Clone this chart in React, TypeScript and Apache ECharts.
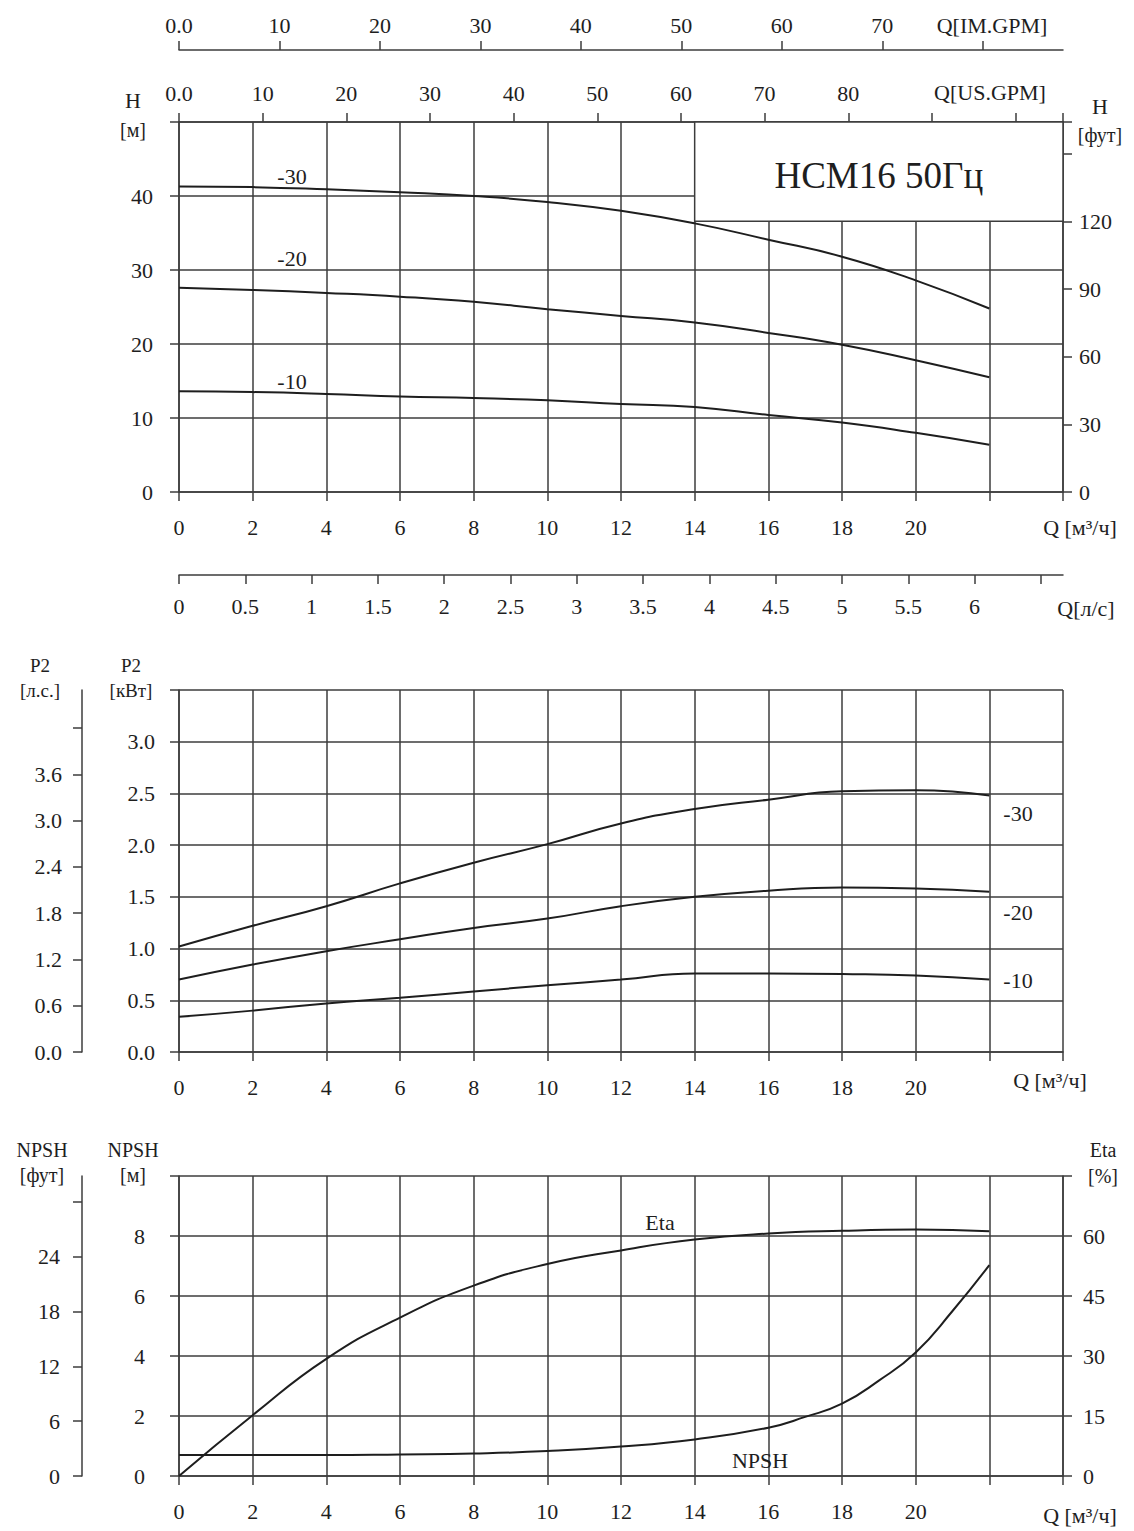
import React, { useEffect, useRef } from "react";
import * as echarts from "echarts";

// ---- data ----
const Q = [0, 2, 4, 6, 8, 10, 12, 14, 16, 18, 20, 22];
const H_30 = [41.3, 41.2, 40.9, 40.5, 40.0, 39.2, 38.0, 36.3, 34.1, 31.8, 28.6, 24.8];
const H_20 = [27.6, 27.3, 26.9, 26.4, 25.7, 24.7, 23.8, 22.9, 21.5, 19.9, 17.8, 15.5];
const H_10 = [13.6, 13.5, 13.25, 12.9, 12.7, 12.4, 11.9, 11.5, 10.4, 9.4, 8.0, 6.4];
const P2_30 = [1.02, 1.22, 1.41, 1.63, 1.83, 2.01, 2.21, 2.35, 2.44, 2.52, 2.53, 2.48];
const P2_20 = [0.7, 0.845, 0.975, 1.09, 1.2, 1.29, 1.41, 1.5, 1.56, 1.59, 1.58, 1.55];
const P2_10 = [0.34, 0.4, 0.47, 0.525, 0.585, 0.645, 0.7, 0.76, 0.76, 0.755, 0.74, 0.7];
const ETA = [0, 15.2, 29.3, 39.6, 47.6, 53.0, 56.4, 59.1, 60.6, 61.3, 61.6, 61.2];
const NPSH_Q = [0, 2, 4, 6, 8, 10, 12, 14, 16, 17, 18, 19, 20, 21, 22];
const NPSH = [0.7, 0.7, 0.7, 0.72, 0.75, 0.83, 0.98, 1.22, 1.61, 1.97, 2.41, 3.18, 4.12, 5.5, 7.03];

// unit conversions
const Q_MAX = 24; // m3/h
const M3H_TO_USGPM = 4.4029;
const M3H_TO_IMGPM = 3.6662;
const M3H_TO_LS = 1 / 3.6;
const M_TO_FT = 3.28084;
const KW_TO_HP = 1 / 0.7457;

// tick values / label limits of secondary axes
const USGPM_STEP = 10;
const USGPM_LAST_LABEL = 80;
const IMGPM_TICKS = [0, 10, 20, 30, 40, 50, 60, 70, 80];
const IMGPM_LABELS = [0, 10, 20, 30, 40, 50, 60, 70];
const LS_TICKS = [0, 0.5, 1, 1.5, 2, 2.5, 3, 3.5, 4, 4.5, 5, 5.5, 6, 6.5];
const LS_LABELS = [0, 0.5, 1, 1.5, 2, 2.5, 3, 3.5, 4, 4.5, 5, 5.5, 6];
const HFT_STEP = 30;
const HFT_LAST_LABEL = 120;
const HP_TICKS = [0, 0.6, 1.2, 1.8, 2.4, 3.0, 3.6, 4.2];
const HP_LABELS = [0, 0.6, 1.2, 1.8, 2.4, 3.0, 3.6];
const NFT_TICKS = [0, 6, 12, 18, 24, 30];
const NFT_LABELS = [0, 6, 12, 18, 24];

const FONT = "Liberation Serif";
const INK = "#1e1e1e";
const GRIDC = "#3c3c3c";
const FS = 22;

const pairs = (xs: number[], ys: number[]) => xs.map((x, i) => [x, ys[i]]);

export default function App() {
  const ref = useRef<HTMLDivElement>(null);
  useEffect(() => {
    if (!ref.current) return;
    const chart = echarts.init(ref.current, null, { renderer: "svg" });
    const L = 179;
    const W = 884;
    const lbl = (extra: any = {}) => ({
      color: INK,
      fontFamily: FONT,
      fontSize: FS,
      ...extra,
    });
    const axLine = { show: true, onZero: false, lineStyle: { color: GRIDC, width: 1.5 } };
    const split = { show: true, lineStyle: { color: GRIDC, width: 1.5 } };
    const tick = (len = 9) => ({ show: true, length: len, lineStyle: { color: GRIDC, width: 1.5 } });

    const qAxis = (gridIndex: number) => ({
      type: "value",
      gridIndex,
      position: "bottom",
      min: 0,
      max: Q_MAX,
      interval: 2,
      axisLine: axLine,
      axisTick: tick(9),
      splitLine: split,
      axisLabel: lbl({ margin: 24, formatter: (v: number) => (v <= 20 ? String(v) : "") }),
    });

    const line = (xi: number, yi: number, data: number[][]) => ({
      type: "line",
      xAxisIndex: xi,
      yAxisIndex: yi,
      data,
      smooth: 0.5,
      symbol: "none",
      lineStyle: { color: INK, width: 2 },
      z: 3,
    });

    const t = (text: string, x: number, y: number, fs = 20, align = "center") => ({
      type: "text",
      x,
      y,
      z: 10,
      style: {
        text,
        fill: INK,
        font: `${fs}px "${FONT}"`,
        align,
        verticalAlign: "middle",
      },
    });

    const hSeries30: any = line(0, 0, pairs(Q, H_30));
    hSeries30.markArea = {
      silent: true,
      itemStyle: { color: "#ffffff", borderColor: GRIDC, borderWidth: 1.5 },
      label: {
        show: true,
        position: "inside",
        color: INK,
        fontFamily: FONT,
        fontSize: 37,
        offset: [0, 4],
      },
      data: [[{ name: "НСМ16 50Гц", xAxis: 14, yAxis: 120 / M_TO_FT }, { xAxis: 24, yAxis: 50 }]],
    };

    const option: any = {
      animation: false,
      backgroundColor: "#ffffff",
      grid: [
        { left: L, top: 122, width: W, height: 370, outerBoundsMode: "none" },
        { left: L, top: 690, width: W, height: 362, outerBoundsMode: "none" },
        { left: L, top: 1176, width: W, height: 300, outerBoundsMode: "none" },
        { left: L, top: 50, width: W, height: 1, outerBoundsMode: "none" },
        { left: L, top: 574, width: W, height: 1, outerBoundsMode: "none" },
      ],
      xAxis: [
        qAxis(0),
        {
          type: "value",
          gridIndex: 0,
          position: "top",
          min: 0,
          max: Q_MAX * M3H_TO_USGPM,
          interval: USGPM_STEP,
          axisLine: axLine,
          axisTick: tick(9),
          splitLine: { show: false },
          axisLabel: lbl({
            margin: 18,
            formatter: (v: number) =>
              v === 0 ? "0.0" : v <= USGPM_LAST_LABEL && v % USGPM_STEP === 0 ? String(v) : "",
          }),
        },
        qAxis(1),
        qAxis(2),
        {
          type: "value",
          gridIndex: 3,
          position: "top",
          min: 0,
          max: Q_MAX * M3H_TO_IMGPM,
          axisLine: axLine,
          axisTick: { ...tick(9), customValues: IMGPM_TICKS },
          splitLine: { show: false },
          axisLabel: lbl({ margin: 14, customValues: IMGPM_LABELS, formatter: (v: number) => (v === 0 ? "0.0" : String(v)) }),
        },
        {
          type: "value",
          gridIndex: 4,
          position: "bottom",
          min: 0,
          max: Q_MAX * M3H_TO_LS,
          axisLine: axLine,
          axisTick: { ...tick(9), customValues: LS_TICKS },
          splitLine: { show: false },
          axisLabel: lbl({ margin: 20, customValues: LS_LABELS, formatter: (v: number) => String(v) }),
        },
      ],
      yAxis: [
        {
          type: "value",
          gridIndex: 0,
          position: "left",
          min: 0,
          max: 50,
          interval: 10,
          axisLine: axLine,
          axisTick: tick(9),
          splitLine: split,
          axisLabel: lbl({ margin: 26, formatter: (v: number) => (v < 50 ? String(v) : "") }),
        },
        {
          type: "value",
          gridIndex: 0,
          position: "right",
          min: 0,
          max: 50 * M_TO_FT,
          interval: HFT_STEP,
          axisLine: axLine,
          axisTick: tick(9),
          splitLine: { show: false },
          axisLabel: lbl({
            margin: 16,
            formatter: (v: number) => (v <= HFT_LAST_LABEL && v % HFT_STEP === 0 ? String(v) : ""),
          }),
        },
        {
          type: "value",
          gridIndex: 1,
          position: "left",
          min: 0,
          max: 3.5,
          interval: 0.5,
          axisLine: axLine,
          axisTick: tick(9),
          splitLine: split,
          axisLabel: lbl({ margin: 24, formatter: (v: number) => (v < 3.4 ? v.toFixed(1) : "") }),
        },
        {
          type: "value",
          gridIndex: 1,
          position: "left",
          offset: 97,
          min: 0,
          max: 3.5 * KW_TO_HP,
          axisLine: axLine,
          axisTick: { ...tick(9), customValues: HP_TICKS },
          splitLine: { show: false },
          axisLabel: lbl({ margin: 20, customValues: HP_LABELS, formatter: (v: number) => v.toFixed(1) }),
        },
        {
          type: "value",
          gridIndex: 2,
          position: "left",
          min: 0,
          max: 10,
          interval: 2,
          axisLine: axLine,
          axisTick: tick(9),
          splitLine: split,
          axisLabel: lbl({ margin: 34, formatter: (v: number) => (v < 10 ? String(v) : "") }),
        },
        {
          type: "value",
          gridIndex: 2,
          position: "left",
          offset: 97,
          min: 0,
          max: 10 * M_TO_FT,
          axisLine: axLine,
          axisTick: { ...tick(9), customValues: NFT_TICKS },
          splitLine: { show: false },
          axisLabel: lbl({ margin: 22, customValues: NFT_LABELS }),
        },
        {
          type: "value",
          gridIndex: 2,
          position: "right",
          min: 0,
          max: 75,
          interval: 15,
          axisLine: axLine,
          axisTick: tick(9),
          splitLine: { show: false },
          axisLabel: lbl({ margin: 20, formatter: (v: number) => (v < 75 ? String(v) : "") }),
        },
        { type: "value", gridIndex: 3, show: false, min: 0, max: 1 },
        { type: "value", gridIndex: 4, show: false, min: 0, max: 1 },
      ],
      series: [
        hSeries30,
        line(0, 0, pairs(Q, H_20)),
        line(0, 0, pairs(Q, H_10)),
        line(2, 2, pairs(Q, P2_30)),
        line(2, 2, pairs(Q, P2_20)),
        line(2, 2, pairs(Q, P2_10)),
        line(3, 6, pairs(Q, ETA)),
        line(3, 4, pairs(NPSH_Q, NPSH)),
      ],
      graphic: [
        t("Q[IM.GPM]", 992, 25, 22),
        t("H", 133, 100, 22),
        t("[м]", 133, 130, 20),
        t("Q[US.GPM]", 990, 92, 22),
        t("H", 1100, 106, 22),
        t("[фут]", 1100, 135, 20),
        t("-30", 292, 176, 22),
        t("-20", 292, 258, 22),
        t("-10", 292, 381, 22),
        t("Q [м³/ч]", 1080, 527, 22),
        t("Q[л/с]", 1086, 608, 22),
        t("P2", 40, 665, 19),
        t("[л.с.]", 40, 690, 19),
        t("P2", 131, 665, 19),
        t("[кВт]", 131, 690, 19),
        t("-30", 1018, 813, 22),
        t("-20", 1018, 912, 22),
        t("-10", 1018, 980, 22),
        t("Q [м³/ч]", 1050, 1080, 22),
        t("NPSH", 42, 1150, 20),
        t("[фут]", 42, 1175, 20),
        t("NPSH", 133, 1150, 20),
        t("[м]", 133, 1175, 20),
        t("Eta", 1103, 1150, 20),
        t("[%]", 1103, 1176, 20),
        t("Eta", 660, 1222, 22),
        t("NPSH", 760, 1460, 22),
        t("Q [м³/ч]", 1080, 1515, 22),
      ],
    };
    chart.setOption(option);
    return () => chart.dispose();
  }, []);
  return (
    <div
      ref={ref}
      style={{ position: "absolute", left: 0, top: 0, width: 1134, height: 1531, background: "#fff" }}
    />
  );
}
